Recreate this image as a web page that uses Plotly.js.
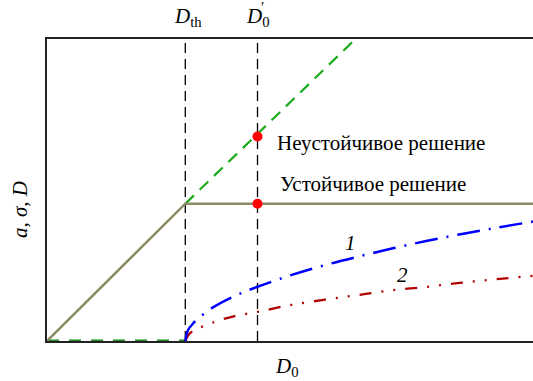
<!DOCTYPE html>
<html><head><meta charset="utf-8">
<script src="https://cdn.plot.ly/plotly-3.0.1.min.js"></script>
<style>html,body{margin:0;padding:0;overflow:hidden;background:#fff}</style>
</head><body><div id="chart" style="width:533px;height:381px"></div>
<script>
// Threshold and operating point (in units of D_th)
const Dth = 1.0;
const D0p = 1.522;
const xMax = 3.514;
const yMax = 2.2;
const plateau = 1.0;
const unstableY = 1.49;

// Elastic (linear) branch and its unstable continuation
const linX = [0, Dth, xMax];
const linY = [0, plateau, plateau];
const unstX = [Dth, 2.21];
const unstY = [plateau, 2.18];
const zeroX = [0, Dth];
const zeroY = [0, 0];

// Curve 1 and curve 2
const c1X = [1.0, 1.02, 1.05, 1.1, 1.2, 1.35, 1.522, 1.75, 2.0, 2.25, 2.5, 2.75, 3.0, 3.25, 3.514];
const c1Y = [0, 0.08, 0.12, 0.17, 0.245, 0.325, 0.395, 0.475, 0.55, 0.615, 0.675, 0.73, 0.78, 0.825, 0.87];
const c2X = [1.0, 1.02, 1.05, 1.1, 1.2, 1.35, 1.522, 1.75, 2.0, 2.25, 2.5, 2.75, 3.0, 3.25, 3.514];
const c2Y = [0, 0.04, 0.07, 0.095, 0.135, 0.18, 0.212, 0.26, 0.3, 0.335, 0.37, 0.395, 0.425, 0.45, 0.475];

const labels = {
  dth: '<i>D</i><sub>th</sub>',
  d0p: '<i>D</i><sub>0</sub>',
  prime: '′',
  xTitle: '<i>D</i><sub>0</sub>',
  yTitle: '<i>a</i>, <i>σ</i>, <i>D</i>',
  unstable: 'Неустойчивое решение',
  stable: 'Устойчивое решение',
  c1: '<i>1</i>',
  c2: '<i>2</i>'
};

const F = '"Liberation Serif", "Times New Roman", serif';

const traces = [
  {x:[Dth,Dth], y:[0,yMax], mode:'lines', line:{color:'#000', width:1.3, dash:'10px,6px'}, hoverinfo:'skip'},
  {x:[D0p,D0p], y:[0,yMax], mode:'lines', line:{color:'#000', width:1.3, dash:'10px,6px'}, hoverinfo:'skip'},
  {x:zeroX, y:zeroY, mode:'lines', line:{color:'#1e8c1e', width:3, dash:'12px,10px'}},
  {x:unstX, y:unstY, mode:'lines', line:{color:'#1aaa1a', width:2.2, dash:'12px,8px'}},
  {x:linX, y:linY, mode:'lines', line:{color:'#8c8a62', width:2.5}},
  {x:c2X, y:c2Y, mode:'lines', line:{color:'#b00000', width:2.3, dash:'12px,10px,2px,10px,2px,10px', shape:'spline'}},
  {x:c1X, y:c1Y, mode:'lines', line:{color:'#0000ff', width:2.5, dash:'23px,9px,2px,9px', shape:'spline'}},
  {x:[D0p,D0p], y:[unstableY, plateau], mode:'markers', marker:{color:'#ff0000', size:10}}
];

const A = (o) => Object.assign({showarrow:false, xanchor:'center', yanchor:'middle', font:{family:F, size:21, color:'#000'}}, o);

const layout = {
  width:533, height:381,
  margin:{l:47, r:0, t:39, b:40},
  showlegend:false,
  paper_bgcolor:'#fff', plot_bgcolor:'#fff',
  font:{family:F, size:21, color:'#000'},
  xaxis:{range:[0,xMax], showgrid:false, zeroline:false, showticklabels:false, ticks:'',
         showline:true, mirror:true, linecolor:'#222', linewidth:1.6},
  yaxis:{range:[0,yMax], showgrid:false, zeroline:false, showticklabels:false, ticks:'',
         showline:true, mirror:false, linecolor:'#222', linewidth:1.6},
  annotations:[
    A({x:Dth, y:1, xref:'x', yref:'paper', xshift:3, yshift:22, text:labels.dth}),
    A({x:D0p, y:1, xref:'x', yref:'paper', xshift:0, yshift:22, text:labels.d0p}),
    A({x:D0p, y:1, xref:'x', yref:'paper', xshift:5, yshift:32, text:labels.prime, font:{family:F, size:15, color:'#000'}}),
    A({x:0.5, y:0, xref:'paper', yref:'paper', xshift:-3, yshift:-26, text:labels.xTitle}),
    A({x:0, y:0.5, xref:'paper', yref:'paper', xshift:-27, yshift:-20, text:labels.yTitle, textangle:-90}),
    A({x:1.652, y:1.445, xref:'x', yref:'y', xanchor:'left', text:labels.unstable}),
    A({x:1.667, y:1.146, xref:'x', yref:'y', xanchor:'left', text:labels.stable}),
    A({x:2.196, y:0.715, xref:'x', yref:'y', text:labels.c1}),
    A({x:2.572, y:0.482, xref:'x', yref:'y', text:labels.c2})
  ]
};

Plotly.newPlot('chart', traces, layout, {staticPlot:true, displayModeBar:false});
</script></body></html>
